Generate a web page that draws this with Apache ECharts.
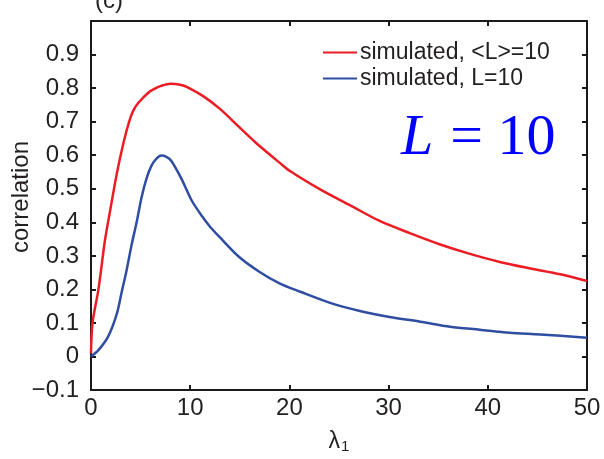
<!DOCTYPE html>
<html>
<head>
<meta charset="utf-8">
<script src="https://cdn.jsdelivr.net/npm/echarts@6/dist/echarts.min.js"></script>
<style>
html,body{margin:0;padding:0;background:#fff;}
#chart{width:604px;height:459px;}
</style>
</head>
<body>
<div id="chart"></div>
<script>
// ---- data ----
const seriesNames = ['simulated, <L>=10', 'simulated, L=10'];
const lambdaRed = [0, 0.15, 0.75, 1.4, 1.9, 2.6, 3.3, 3.9, 4.3, 4.8, 5.8, 6.4, 7.0, 8.0, 9.0, 9.7, 11.3, 13.0, 15.0, 16.7, 19.0, 20.1, 23.1, 26.1, 29.1, 32.2, 35.2, 38.2, 41.2, 44.2, 47.3, 50];
const corrRed   = [0.01, 0.10, 0.20, 0.345, 0.43, 0.545, 0.64, 0.705, 0.735, 0.757, 0.787, 0.798, 0.806, 0.813, 0.810, 0.803, 0.776, 0.738, 0.682, 0.635, 0.578, 0.552, 0.498, 0.451, 0.404, 0.367, 0.334, 0.306, 0.282, 0.263, 0.245, 0.225];
const lambdaBlue = [0, 0.75, 1.75, 2.6, 3.1, 3.6, 4.1, 4.6, 5.1, 5.6, 6.1, 6.6, 7.1, 7.6, 8.1, 9.1, 10.15, 11.2, 12.0, 13.0, 15.0, 17.0, 19.0, 21.1, 24.1, 27.1, 30.1, 33.2, 36.2, 39.2, 42.2, 45.3, 50];
const corrBlue   = [0.0, 0.019, 0.061, 0.127, 0.193, 0.259, 0.334, 0.400, 0.475, 0.531, 0.569, 0.590, 0.599, 0.595, 0.583, 0.531, 0.465, 0.418, 0.387, 0.355, 0.295, 0.252, 0.218, 0.193, 0.160, 0.136, 0.118, 0.104, 0.089, 0.080, 0.071, 0.066, 0.056];
const xTicks = [0, 10, 20, 30, 40, 50];
const yTicks = [-0.1, 0, 0.1, 0.2, 0.3, 0.4, 0.5, 0.6, 0.7, 0.8, 0.9];
const xTitle = 'λ';
const xTitleSub = '1';
const yTitle = 'correlation';
const panelLabel = '(c)';
const annotation = ['L', '= 10'];

// ---- chart ----
const FONT = '"Liberation Sans", Arial, Helvetica, sans-serif';
const SERIF = '"Liberation Serif", "Times New Roman", serif';
const TXT = '#231f20';
const chart = echarts.init(document.getElementById('chart'), null, {renderer: 'canvas'});

function pairs(xs, ys) { return xs.map((x, i) => [x, ys[i]]); }
function yLabel(v) {
  const r = Math.round(v * 10) / 10;
  const hit = yTicks.some(t => Math.abs(t - r) < 1e-9);
  if (!hit) return '';
  if (r === 0) return '0';
  return (r < 0 ? '\u2212' : '') + Math.abs(r).toFixed(1);
}
function xLabel(v) {
  return xTicks.indexOf(Math.round(v)) >= 0 ? String(Math.round(v)) : '';
}

const axisLine = {show: true, onZero: false, lineStyle: {color: '#1a1a1a', width: 2}};
const axisTick = {show: true, inside: true, length: 5, lineStyle: {color: '#1a1a1a', width: 2}};

chart.setOption({
  animation: false,
  backgroundColor: '#fff',
  grid: {left: 91, top: 21, width: 496, height: 390, containLabel: false},
  xAxis: [
    {type: 'value', position: 'bottom', min: 0, max: 50, interval: 10,
     axisLine, axisTick, splitLine: {show: false},
     axisLabel: {margin: 6, fontSize: 24, color: TXT, fontFamily: FONT, formatter: xLabel},
     name: '{a|' + xTitle + '}{b|' + xTitleSub + '}', nameLocation: 'middle', nameGap: 25,
     nameTextStyle: {color: TXT, fontFamily: FONT,
       rich: {a: {fontSize: 23, lineHeight: 24, verticalAlign: 'top', fontFamily: FONT, color: TXT},
              b: {fontSize: 15, lineHeight: 14, padding: [14, 0, 0, 1], verticalAlign: 'bottom', fontFamily: FONT, color: TXT}}}},
    {type: 'value', position: 'top', min: 0, max: 50, interval: 10,
     axisLine, axisTick, splitLine: {show: false}, axisLabel: {show: false}}
  ],
  yAxis: [
    {type: 'value', position: 'left', min: -0.1, max: 1.0, interval: 0.1,
     axisLine, axisTick, splitLine: {show: false},
     axisLabel: {margin: 12, fontSize: 24, color: TXT, fontFamily: FONT, formatter: yLabel}},
    {type: 'value', position: 'right', min: -0.1, max: 1.0, interval: 0.1,
     axisLine, axisTick, splitLine: {show: false}, axisLabel: {show: false}}
  ],
  legend: {
    orient: 'vertical', left: 318, top: 36, itemGap: 3,
    itemWidth: 34, itemHeight: 2, icon: 'rect',
    textStyle: {fontSize: 23, color: TXT, fontFamily: FONT, padding: [0, 0, 0, -2]},
    data: seriesNames
  },
  series: [
    {name: seriesNames[0], type: 'line', data: pairs(lambdaRed, corrRed), showSymbol: false,
     smooth: 0.3,
     lineStyle: {color: '#ec1c24', width: 2.5}, itemStyle: {color: '#ec1c24'}, xAxisIndex: 0, yAxisIndex: 0},
    {name: seriesNames[1], type: 'line', data: pairs(lambdaBlue, corrBlue), showSymbol: false,
     smooth: 0.3,
     lineStyle: {color: '#2f4ea2', width: 2.5}, itemStyle: {color: '#2f4ea2'}, xAxisIndex: 0, yAxisIndex: 0}
  ],
  graphic: [
    {type: 'text', rotation: Math.PI / 2, x: 21, y: 197,
     style: {text: yTitle, fontSize: 24, fill: TXT, fontFamily: FONT, align: 'center', verticalAlign: 'middle'}},
    {type: 'text', x: 95, y: 13,
     style: {text: panelLabel, fontSize: 24, fill: TXT, fontFamily: FONT, align: 'left', verticalAlign: 'bottom'}},
    {type: 'text', x: 401, y: 139,
     style: {text: '{i|' + annotation[0] + '}{n|' + annotation[1] + '}', align: 'left', verticalAlign: 'middle',
       rich: {i: {fontSize: 58, fontStyle: 'italic', fontFamily: SERIF, fill: '#0000ff', padding: [0, 17, 0, 0]},
              n: {fontSize: 58, fontFamily: SERIF, fill: '#0000ff'}}}}
  ]
});
</script>
</body>
</html>
